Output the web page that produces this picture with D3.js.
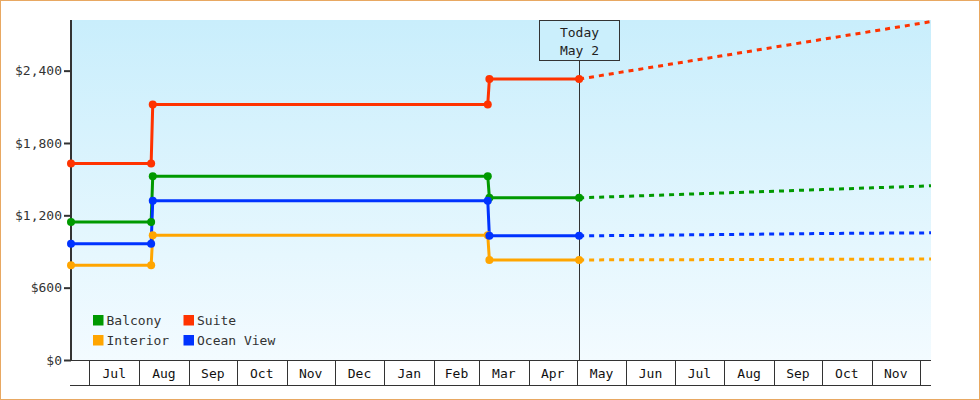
<!DOCTYPE html>
<html>
<head>
<meta charset="utf-8">
<script src="https://cdn.jsdelivr.net/npm/d3@7"></script>
<style>
  html, body { margin: 0; padding: 0; background: #fff; }
  svg { display: block; }
  text { font-family: "DejaVu Sans Mono", monospace; font-size: 13px; }
</style>
</head>
<body>
<svg id="chart" width="980" height="400"></svg>
<script>
// ---------- data ----------
const seriesNames = ["Balcony", "Suite", "Interior", "Ocean View"];
const seriesColors = ["#009900", "#ff3300", "#ffa500", "#0033ff"];

const historyDates = ["2022-06-19T12:00", "2022-08-08T12:00", "2022-08-09T12:00",
                      "2023-03-06T12:00", "2023-03-07T12:00", "2023-05-02T12:00"];
const balconyHistory   = [1145, 1145, 1525, 1525, 1345, 1345];
const suiteHistory     = [1630, 1630, 2120, 2120, 2330, 2330];
const interiorHistory  = [785, 785, 1035, 1035, 830, 830];
const oceanViewHistory = [965, 965, 1320, 1320, 1030, 1030];

const forecastDates = ["2023-05-02T12:00", "2023-06-01T12:00", "2023-07-01T12:00", "2023-08-01T12:00",
                       "2023-09-01T12:00", "2023-10-01T12:00", "2023-11-01T12:00", "2023-12-01T12:00",
                       "2023-12-08T00:00"];
const balconyForecast   = [1345, 1358, 1372, 1386, 1400, 1414, 1428, 1442, 1446];
const suiteForecast     = [2330, 2395, 2460, 2527, 2595, 2660, 2727, 2792, 2807];
const interiorForecast  = [830, 831, 832, 833, 834, 835, 836, 837, 838];
const oceanViewForecast = [1030, 1033, 1037, 1041, 1045, 1049, 1052, 1054, 1055];

const todayDate = "2023-05-02T12:00";
const todayLabel = ["Today", "May 2"];

const monthStarts = ["2022-07-01T00:00", "2022-08-01T00:00", "2022-09-01T00:00", "2022-10-01T00:00",
                     "2022-11-01T00:00", "2022-12-01T00:00", "2023-01-01T00:00", "2023-02-01T00:00",
                     "2023-03-01T00:00", "2023-04-01T00:00", "2023-05-01T00:00", "2023-06-01T00:00",
                     "2023-07-01T00:00", "2023-08-01T00:00", "2023-09-01T00:00", "2023-10-01T00:00",
                     "2023-11-01T00:00", "2023-12-01T00:00"];
const monthLabels = ["Jul", "Aug", "Sep", "Oct", "Nov", "Dec", "Jan", "Feb", "Mar",
                     "Apr", "May", "Jun", "Jul", "Aug", "Sep", "Oct", "Nov"];
const yTicks = [0, 600, 1200, 1800, 2400];
const xDomain = ["2022-06-19T12:00", "2023-12-08T00:00"];
const yMax = 2820;

// ---------- setup ----------
(function () {
const parse = d3.timeParse("%Y-%m-%dT%H:%M");
const W = 980, H = 400;
const pL = 71, pR = 931, pT = 20, pB = 360, axisBottom = 385;

const svg = d3.select("#chart");
const x = d3.scaleTime().domain(xDomain.map(parse)).range([pL, pR]);
const y = d3.scaleLinear().domain([0, yMax]).range([pB, pT]);

const histories = [balconyHistory, suiteHistory, interiorHistory, oceanViewHistory];
const forecasts = [balconyForecast, suiteForecast, interiorForecast, oceanViewForecast];

const defs = svg.append("defs");
const grad = defs.append("linearGradient").attr("id", "bg").attr("x1", 0).attr("y1", 0).attr("x2", 0).attr("y2", 1);
grad.append("stop").attr("offset", "0%").attr("stop-color", "#c9eefc");
grad.append("stop").attr("offset", "100%").attr("stop-color", "#f3fbff");
defs.append("clipPath").attr("id", "plotclip").append("rect")
  .attr("x", pL).attr("y", pT).attr("width", pR - pL).attr("height", pB - pT);

// outer border
svg.append("rect").attr("x", 0.5).attr("y", 0.5).attr("width", W - 1).attr("height", H - 1)
  .attr("fill", "#fff").attr("stroke", "#e8a862").attr("stroke-width", 1);

// plot background
svg.append("rect").attr("x", pL).attr("y", pT).attr("width", pR - pL).attr("height", pB - pT)
  .attr("fill", "url(#bg)");

// ---------- x axis (month boxes) ----------
const mDates = monthStarts.map(parse);
const xg = svg.append("g").attr("shape-rendering", "crispEdges");
xg.append("line").attr("x1", pL - 1).attr("x2", pR).attr("y1", pB + 0.5).attr("y2", pB + 0.5)
  .attr("stroke", "#333").attr("stroke-width", 1.5);
xg.append("line").attr("x1", pL - 1).attr("x2", pR).attr("y1", axisBottom + 0.5).attr("y2", axisBottom + 0.5)
  .attr("stroke", "#333").attr("stroke-width", 1.5);
xg.selectAll("line.sep").data(mDates).join("line").attr("class", "sep")
  .attr("x1", d => Math.round(x(d)) + 0.5).attr("x2", d => Math.round(x(d)) + 0.5)
  .attr("y1", pB).attr("y2", axisBottom)
  .attr("stroke", "#333").attr("stroke-width", 1);
svg.append("g").selectAll("text").data(monthLabels).join("text")
  .attr("x", (d, i) => (x(mDates[i]) + x(mDates[i + 1])) / 2)
  .attr("y", 373)
  .attr("text-anchor", "middle").attr("dominant-baseline", "central")
  .attr("fill", "#111")
  .text(d => d);

// ---------- y axis ----------
const yAxis = d3.axisLeft(y).tickValues(yTicks).tickSize(7).tickPadding(2)
  .tickFormat(d => "$" + d3.format(",")(d));
const yg = svg.append("g").attr("transform", `translate(${pL},0)`).call(yAxis);
yg.select(".domain").remove();
yg.selectAll(".tick line").attr("stroke", "#333").attr("stroke-width", 2);
yg.selectAll(".tick text").attr("fill", "#333")
  .style("font-family", '"DejaVu Sans Mono", monospace').style("font-size", "13px");
svg.append("line").attr("x1", pL).attr("x2", pL).attr("y1", pT).attr("y2", pB + 1)
  .attr("stroke", "#333").attr("stroke-width", 2);

// ---------- today marker ----------
const tx = Math.round(x(parse(todayDate))) + 0.5;
svg.append("line").attr("x1", tx).attr("x2", tx).attr("y1", 60).attr("y2", pB)
  .attr("stroke", "#333").attr("stroke-width", 1).attr("shape-rendering", "crispEdges");
svg.append("rect").attr("x", tx - 40).attr("y", pT + 0.5).attr("width", 80).attr("height", 40)
  .attr("fill", "#cbeffc").attr("stroke", "#333").attr("stroke-width", 1).attr("shape-rendering", "crispEdges");
svg.append("g").selectAll("text").data(todayLabel).join("text")
  .attr("x", tx).attr("y", (d, i) => 32.5 + i * 18)
  .attr("text-anchor", "middle").attr("dominant-baseline", "central")
  .attr("fill", "#222").text(d => d);

// ---------- series ----------
const line = d3.line().x(d => x(d[0])).y(d => y(d[1]));
const hDates = historyDates.map(parse);
const fDates = forecastDates.map(parse);
const plot = svg.append("g").attr("clip-path", "url(#plotclip)");
const marks = svg.append("g");

seriesNames.forEach((name, i) => {
  const hPts = hDates.map((d, j) => [d, histories[i][j]]);
  const fPts = fDates.map((d, j) => [d, forecasts[i][j]]);
  plot.append("path").attr("d", line(fPts)).attr("fill", "none")
    .attr("stroke", seriesColors[i]).attr("stroke-width", 3).attr("stroke-dasharray", "5,5");
  plot.append("path").attr("d", line(hPts)).attr("fill", "none")
    .attr("stroke", seriesColors[i]).attr("stroke-width", 3).attr("stroke-linejoin", "round");
  marks.selectAll(null).data(hPts).join("circle")
    .attr("cx", d => x(d[0])).attr("cy", d => y(d[1])).attr("r", 4)
    .attr("fill", seriesColors[i]);
});

// ---------- legend ----------
const legend = svg.append("g");
seriesNames.forEach((name, i) => {
  const lx = 93 + (i % 2) * 90.5;
  const ly = 315 + Math.floor(i / 2) * 20;
  legend.append("rect").attr("x", lx).attr("y", ly).attr("width", 10.5).attr("height", 10.5)
    .attr("fill", seriesColors[i]);
  legend.append("text").attr("x", lx + 13.5).attr("y", ly + 5.5)
    .attr("dominant-baseline", "central").attr("fill", "#333").text(name);
});
})();
</script>
</body>
</html>
